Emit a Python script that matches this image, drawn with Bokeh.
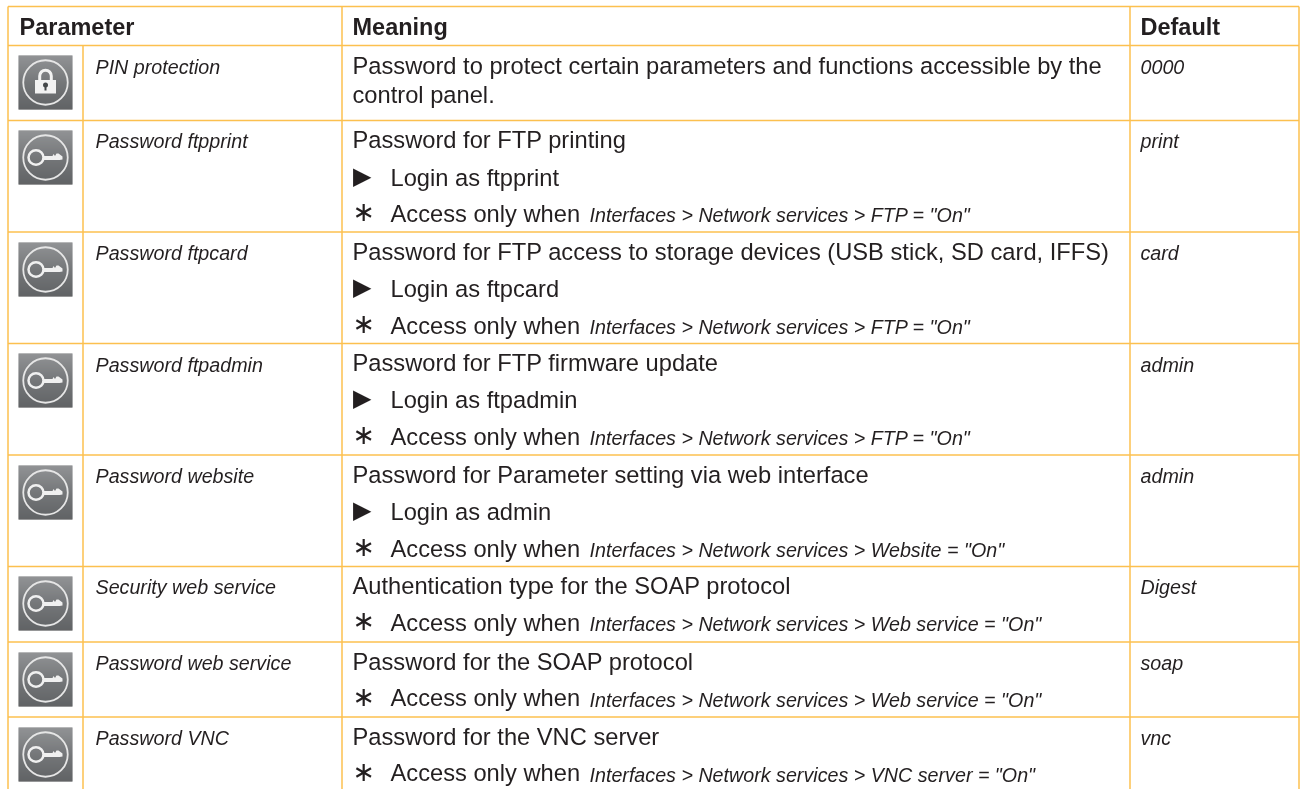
from bokeh.plotting import figure
from bokeh.models import Range1d
from bokeh.core.properties import value
from bokeh.embed import file_html
from bokeh.resources import INLINE
import numpy as np

headers = ["Parameter", "Meaning", "Default"]
parameters = ["PIN protection", "Password ftpprint", "Password ftpcard", "Password ftpadmin",
              "Password website", "Security web service", "Password web service", "Password VNC"]
defaults = ["0000", "print", "card", "admin", "admin", "Digest", "soap", "vnc"]
meanings = [
    "Password to protect certain parameters and functions accessible by the",
    "Password for FTP printing",
    "Password for FTP access to storage devices (USB stick, SD card, IFFS)",
    "Password for FTP firmware update",
    "Password for Parameter setting via web interface",
    "Authentication type for the SOAP protocol",
    "Password for the SOAP protocol",
    "Password for the VNC server",
]
continuation = "control panel."
logins = ["", "Login as ftpprint", "Login as ftpcard", "Login as ftpadmin", "Login as admin", "", "", ""]
access_lead = "Access only when"
access_paths = ["",
    'Interfaces > Network services > FTP = "On"',
    'Interfaces > Network services > FTP = "On"',
    'Interfaces > Network services > FTP = "On"',
    'Interfaces > Network services > Website = "On"',
    'Interfaces > Network services > Web service = "On"',
    'Interfaces > Network services > Web service = "On"',
    'Interfaces > Network services > VNC server = "On"']
icons = ["lock"] + ["key"] * 7

# layout
W, H = 1301, 789
col_x = [7.5, 82.5, 341.5, 1129.5, 1298.5]
row_y = [6, 45, 120, 231.5, 343, 454.5, 566, 641.5, 716.5]
base1 = [73, 147, 259, 370.5, 482, 593, 669, 744]
base_login = [None, 185, 296, 407.5, 519, None, None, None]
base_access = [None, 221, 333, 444, 556, 630, 705.5, 780.5]
icon_top = [55, 130, 242, 353, 465, 576, 652, 727]
INK = "#231f20"
RULE = "#fcc04f"
SANS = "Liberation Sans"
BODY = "23.7px"
ITAL = "19.7px"
DY_BODY = -8
DY_ITAL = -6.5

p = figure(width=W, height=H, output_backend="svg", toolbar_location=None,
           x_range=Range1d(0, W), y_range=Range1d(H, 0), x_axis_type=None, y_axis_type=None,
           min_border=0, outline_line_color=None, background_fill_color="white",
           styles={"position": "fixed", "left": "0", "top": "0"})
p.grid.visible = False

# rules
p.segment(x0=[col_x[0]] * 9, x1=[col_x[4]] * 9, y0=row_y, y1=row_y, line_color=RULE, line_width=1.5)
p.segment(x0=[col_x[0], col_x[2], col_x[3], col_x[4]], x1=[col_x[0], col_x[2], col_x[3], col_x[4]],
          y0=[row_y[0]] * 4, y1=[H] * 4, line_color=RULE, line_width=1.5)
p.segment(x0=[col_x[1]], x1=[col_x[1]], y0=[row_y[1]], y1=[H], line_color=RULE, line_width=1.5)


def put(xs, ys, texts, font=SANS, size=BODY, style="normal", color=INK, dy=DY_BODY):
    p.text(x=xs, y=[y + dy for y in ys], text=texts, text_font=value(font), text_font_size=size,
           text_font_style=style, text_color=color, text_baseline="alphabetic", text_align="left")


put([19, 352, 1140], [34, 34, 34], headers, size="23.5px", style="bold")
put([95] * 8, base1, parameters, size=ITAL, style="italic", dy=DY_ITAL)
put([1140] * 8, base1, defaults, size=ITAL, style="italic", dy=DY_ITAL)
put([352] * 8, base1, meanings)
put([352], [102], [continuation])

idx_login = [i for i, t in enumerate(logins) if t]
idx_acc = [i for i, t in enumerate(access_paths) if t]
put([390] * len(idx_login), [base_login[i] for i in idx_login], [logins[i] for i in idx_login])
put([390] * len(idx_acc), [base_access[i] for i in idx_acc], [access_lead] * len(idx_acc))
put([589] * len(idx_acc), [base_access[i] for i in idx_acc], [access_paths[i] for i in idx_acc],
    size=ITAL, style="italic", dy=DY_ITAL)
put([352.5] * len(idx_login), [base_login[i] for i in idx_login], ["\u25b6"] * len(idx_login),
    font="DejaVu Sans", size="24px", dy=-10)
put([352] * len(idx_acc), [base_access[i] for i in idx_acc], ["\u2217"] * len(idx_acc),
    font="DejaVu Sans", size="27px", dy=-10)

# icons
S = 54
stops_at = [0, 0.55, 1]
stops_r, stops_g, stops_b = [0x6e, 0x45, 0x2e], [0x70, 0x48, 0x31], [0x73, 0x4b, 0x33]
for kind, ty in zip(icons, icon_top):
    lx = 18
    cx, cy = lx + S / 2, ty + S / 2
    t = np.arange(S) / (S - 1)
    r, g, b = (np.interp(t, stops_at, s) for s in (stops_r, stops_g, stops_b))
    cols = ["#%02x%02x%02x" % (int(a), int(c), int(d)) for a, c, d in zip(r, g, b)]
    p.quad(left=[lx] * S, right=[lx + S] * S, top=[ty + k for k in range(S)],
           bottom=[ty + k + 1 for k in range(S)], fill_color=cols, line_color=None)
    p.ellipse(x=[cx], y=[cy], width=[44.5], height=[44.5], fill_color=None, line_color="#e6e6e6", line_width=1.8)
    if kind == "lock":
        p.quad(left=[cx - 10.5], right=[cx + 10.5], top=[cy - 2.5], bottom=[cy + 11], fill_color="#f2f2f2", line_color=None)
        p.arc(x=[cx], y=[cy - 6.5], radius=[5.8], start_angle=0, end_angle=np.pi, line_color="#f2f2f2", line_width=3)
        p.segment(x0=[cx - 5.8, cx + 5.8], x1=[cx - 5.8, cx + 5.8], y0=[cy - 6.5] * 2, y1=[cy - 2.5] * 2,
                  line_color="#f2f2f2", line_width=3)
        p.scatter(x=[cx], y=[cy + 2.5], size=5, fill_color="#45484a", line_color=None)
        p.segment(x0=[cx], x1=[cx], y0=[cy + 3], y1=[cy + 8], line_color="#45484a", line_width=2)
    else:
        bx = cx - 9.5
        p.ellipse(x=[bx], y=[cy], width=[15], height=[14.5], fill_color=None, line_color="#f0f0f0", line_width=2.5)
        p.patch(x=[bx + 7, cx + 2, cx + 7, cx + 8, cx + 9.5, cx + 11, cx + 13, cx + 17, cx + 17, cx + 14, bx + 7],
                y=[cy - 1.5, cy - 1.5, cy - 1.5, cy - 3.5, cy - 1.5, cy - 4, cy - 4, cy - 1, cy + 2, cy + 2.5, cy + 2.5],
                fill_color="#f0f0f0", line_color=None)

open("out.html", "w").write(file_html(p, INLINE))
